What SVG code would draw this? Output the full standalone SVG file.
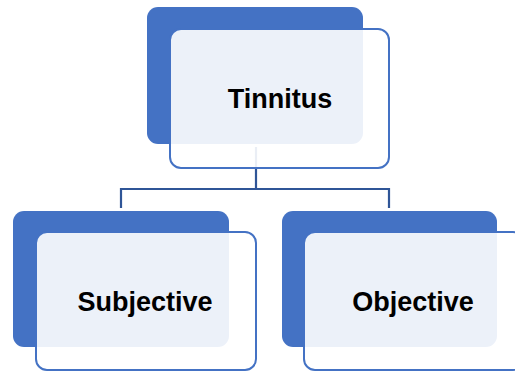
<svg xmlns="http://www.w3.org/2000/svg" width="515" height="371" viewBox="0 0 515 371">
<style>
.back{fill:#4472C4}
.front{fill:#ffffff;fill-opacity:0.9;stroke:#4472C4;stroke-width:2}
.conn{fill:none;stroke:#2F5597;stroke-width:2.2}
.lbl{font-family:"Liberation Sans",Arial,sans-serif;font-weight:bold;font-size:27px;fill:#000;text-anchor:middle}
</style>
<rect width="515" height="371" fill="#ffffff"/>
<g id="connectors">
<path class="conn" d="M256 147 V189 M121 208 V189 H389 V208"/>
</g>
<g id="tinnitus">
<rect class="back" x="147" y="7" width="216" height="137" rx="11"/>
<rect class="front" x="170" y="29" width="219" height="139" rx="11"/>
<text class="lbl" x="280" y="108">Tinnitus</text>
</g>
<g id="subjective">
<rect class="back" x="13" y="211" width="216" height="136" rx="11"/>
<rect class="front" x="36" y="232" width="220" height="138" rx="11"/>
<text class="lbl" x="145" y="311">Subjective</text>
</g>
<g id="objective">
<rect class="back" x="282" y="211" width="215" height="136" rx="11"/>
<rect class="front" x="304" y="232" width="220" height="138" rx="11"/>
<text class="lbl" x="413" y="311">Objective</text>
</g>
</svg>
